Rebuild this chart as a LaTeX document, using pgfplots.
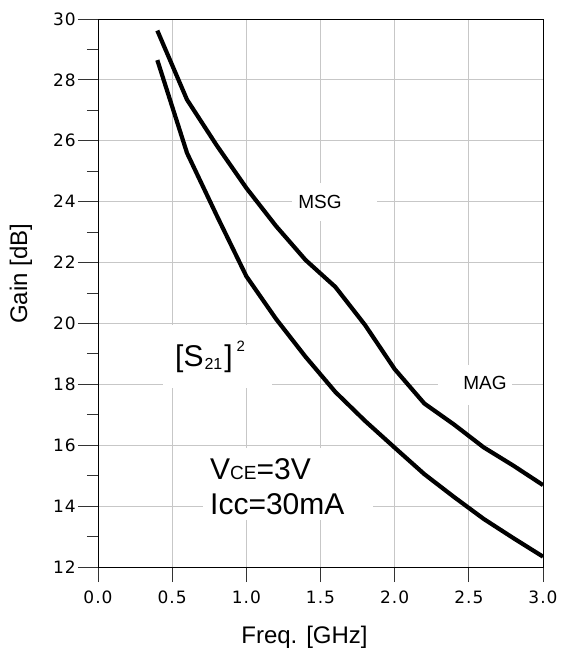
\documentclass[border=0pt]{standalone}
\usepackage{fontspec}
\setmainfont{Liberation Sans}
\newfontfamily\tickfont[LetterSpace=6]{DejaVu Sans}
\usepackage{pgfplots}
\pgfplotsset{compat=1.18}
\begin{document}
\begin{tikzpicture}
\begin{axis}[
  at={(0,0)}, anchor=south west,
  scale only axis, width=445pt, height=548pt,
  xmin=0, xmax=3, ymin=12, ymax=30,
  xtick={0,0.5,1,1.5,2,2.5,3},
  ytick={12,14,16,18,20,22,24,26,28,30},
  minor ytick={13,15,17,19,21,23,25,27,29},
  xticklabel style={inner ysep=4pt, /pgf/number format/.cd, fixed, fixed zerofill, precision=1},
  grid=major,
  major grid style={line width=0.8pt, color=black!22},
  tick align=outside, major tick length=20pt, minor tick length=11pt,
  xtick style={/pgfplots/major tick length=15pt},
  tick style={line width=0.8pt, black!80},
  axis line style={line width=0.8pt, black},
  xtick pos=left, ytick pos=left,
  ticklabel style={font=\tickfont\fontsize{17}{20}\selectfont},
  yticklabel style={inner xsep=2pt},
  /pgf/number format/assume math mode=true,
  xlabel={Freq. [GHz]},
  xlabel style={at={(axis description cs:0.464,-0.1387)}, anchor=base, font=\fontsize{24}{28}\selectfont},
  ylabel={Gain [dB]},
  ylabel style={at={(axis description cs:-0.173,0.535)}, anchor=center, font=\fontsize{24}{28}\selectfont},
]
% white label boxes over the grid
\fill[white] (axis cs:1.308,23.36) rectangle (axis cs:1.881,24.61);
\fill[white] (axis cs:2.293,17.32) rectangle (axis cs:2.792,18.63);
\fill[white] (axis cs:0.438,17.88) rectangle (axis cs:1.173,19.95);
\fill[white] (axis cs:0.708,13.54) rectangle (axis cs:1.854,15.91);

% MSG / MAG
\addplot[line width=4.2pt, black, line join=round] table {
0.4 29.62
0.6 27.35
0.8 25.85
1.0 24.45
1.2 23.2
1.4 22.08
1.6 21.2
1.8 19.95
2.0 18.5
2.2 17.37
2.4 16.68
2.6 15.93
2.8 15.33
3.0 14.69
};
% |S21|^2
\addplot[line width=4.2pt, black, line join=round] table {
0.4 28.65
0.6 25.6
0.8 23.55
1.0 21.55
1.2 20.15
1.4 18.9
1.6 17.75
1.8 16.8
2.0 15.92
2.2 15.05
2.4 14.3
2.6 13.58
2.8 12.95
3.0 12.34
};

\node[anchor=west, inner sep=0pt, font=\fontsize{19}{22}\selectfont] at (axis cs:1.349,23.99) {MSG};
\node[anchor=west, inner sep=0pt, font=\fontsize{19}{22}\selectfont] at (axis cs:2.461,18.04) {MAG};
\node[anchor=base west, inner sep=0pt] at (axis cs:0.519,18.57)
  {\fontsize{30}{36}\selectfont [S\kern1pt\raisebox{-3pt}{\fontsize{16}{18}\selectfont 21}\kern2pt]\kern4pt\raisebox{15pt}{\fontsize{15}{18}\selectfont 2}};
\node[anchor=base west, inner sep=0pt] at (axis cs:0.755,14.89)
  {\fontsize{30}{36}\selectfont V{\fontsize{19}{22}\selectfont CE}=3V};
\node[anchor=base west, inner sep=0pt] at (axis cs:0.755,13.71)
  {\fontsize{30}{36}\selectfont Icc=30mA};
\end{axis}
\pgfresetboundingbox
\path (-98pt,-83pt) rectangle (464pt,567pt);
\end{tikzpicture}
\end{document}
